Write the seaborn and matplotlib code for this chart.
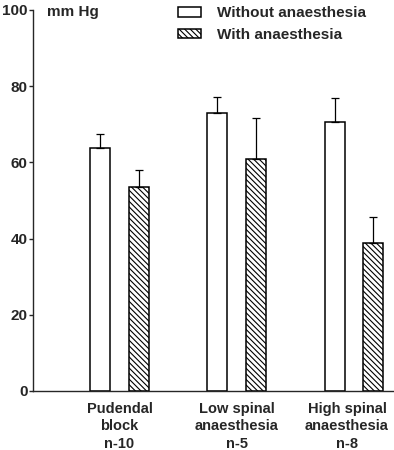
import pandas as pd
import seaborn as sns
import matplotlib.pyplot as plt
import matplotlib.transforms as mtransforms

# values (mm Hg, mean and upper error)
groups = ["Pudendal\nblock\nn-10", "Low spinal\nanaesthesia\nn-5", "High spinal\nanaesthesia\nn-8"]
conditions = ["Without anaesthesia", "With anaesthesia"]
without_mean = [63.8, 73.0, 70.6]
with_mean = [53.6, 60.9, 38.9]
without_err = [3.6, 4.1, 6.4]
with_err = [4.4, 10.7, 6.8]
y_ticks = [0, 20, 40, 60, 80, 100]

df = pd.DataFrame({
    "group": groups * 2,
    "condition": [conditions[0]] * 3 + [conditions[1]] * 3,
    "pressure": without_mean + with_mean,
    "err": without_err + with_err,
})

sns.set_style("ticks")
plt.rcParams["font.family"] = ["Liberation Sans", "DejaVu Sans"]
plt.rcParams["font.weight"] = "bold"
plt.rcParams["hatch.linewidth"] = 0.8

HATCH = "\\" * 6

fig = plt.figure(figsize=(3.94, 4.5), dpi=100)
ax = fig.add_axes([33 / 394, 59 / 450, 1 - 33 / 394, 381 / 450])

sns.barplot(
    data=df, x="group", y="pressure", hue="condition",
    palette=["white", "white"], edgecolor="black", linewidth=1.1,
    width=0.66, gap=0.485, errorbar=None, ax=ax,
)

# hatch the second series and add upper-only error bars
bars = [p for p in ax.patches if p.get_height() > 0]
n = len(groups)
for i, bar in enumerate(bars[:2 * n]):
    if i >= n:
        bar.set_hatch(HATCH)
    x = bar.get_x() + bar.get_width() / 2
    top = bar.get_height()
    e = df["err"].iloc[i]
    ax.errorbar(x, top, yerr=[[0], [e]], fmt="none", ecolor="black",
                elinewidth=0.9, capsize=3, capthick=0.9)

ax.set_ylim(0, 100)
ax.set_xlim(-0.738, 2.341)
ax.set_yticks(y_ticks)
ax.set_xlabel("")
ax.set_ylabel("")
ax.tick_params(axis="y", labelsize=11, length=3, width=1, pad=1)
ax.tick_params(axis="x", labelsize=10.5, length=0, pad=8)
for lab in ax.get_xticklabels() + ax.get_yticklabels():
    lab.set_fontweight("bold")
for lab in ax.get_xticklabels():
    lab.set_linespacing(1.3)
# last label sits a little left of its bars so it stays inside the figure
last = ax.get_xticklabels()[-1]
last.set_transform(last.get_transform() +
                   mtransforms.ScaledTranslation(-7 / 100, 0, fig.dpi_scale_trans))
sns.despine(ax=ax)
ax.spines["left"].set_linewidth(1)
ax.spines["bottom"].set_linewidth(1)

fig.text(47 / 394, 1 - 12 / 450, "mm Hg", fontsize=11, fontweight="bold",
         ha="left", va="center")

handles, labels = ax.get_legend_handles_labels()
handles[1].set_hatch(HATCH)
ax.legend(handles, labels, frameon=False, loc="upper left",
          bbox_to_anchor=(0.402, 1.01), fontsize=11,
          handlelength=1.5, handleheight=0.6, handletextpad=1.05,
          labelspacing=0.5, borderaxespad=0, borderpad=0)

fig.savefig("out.png", dpi=100)
